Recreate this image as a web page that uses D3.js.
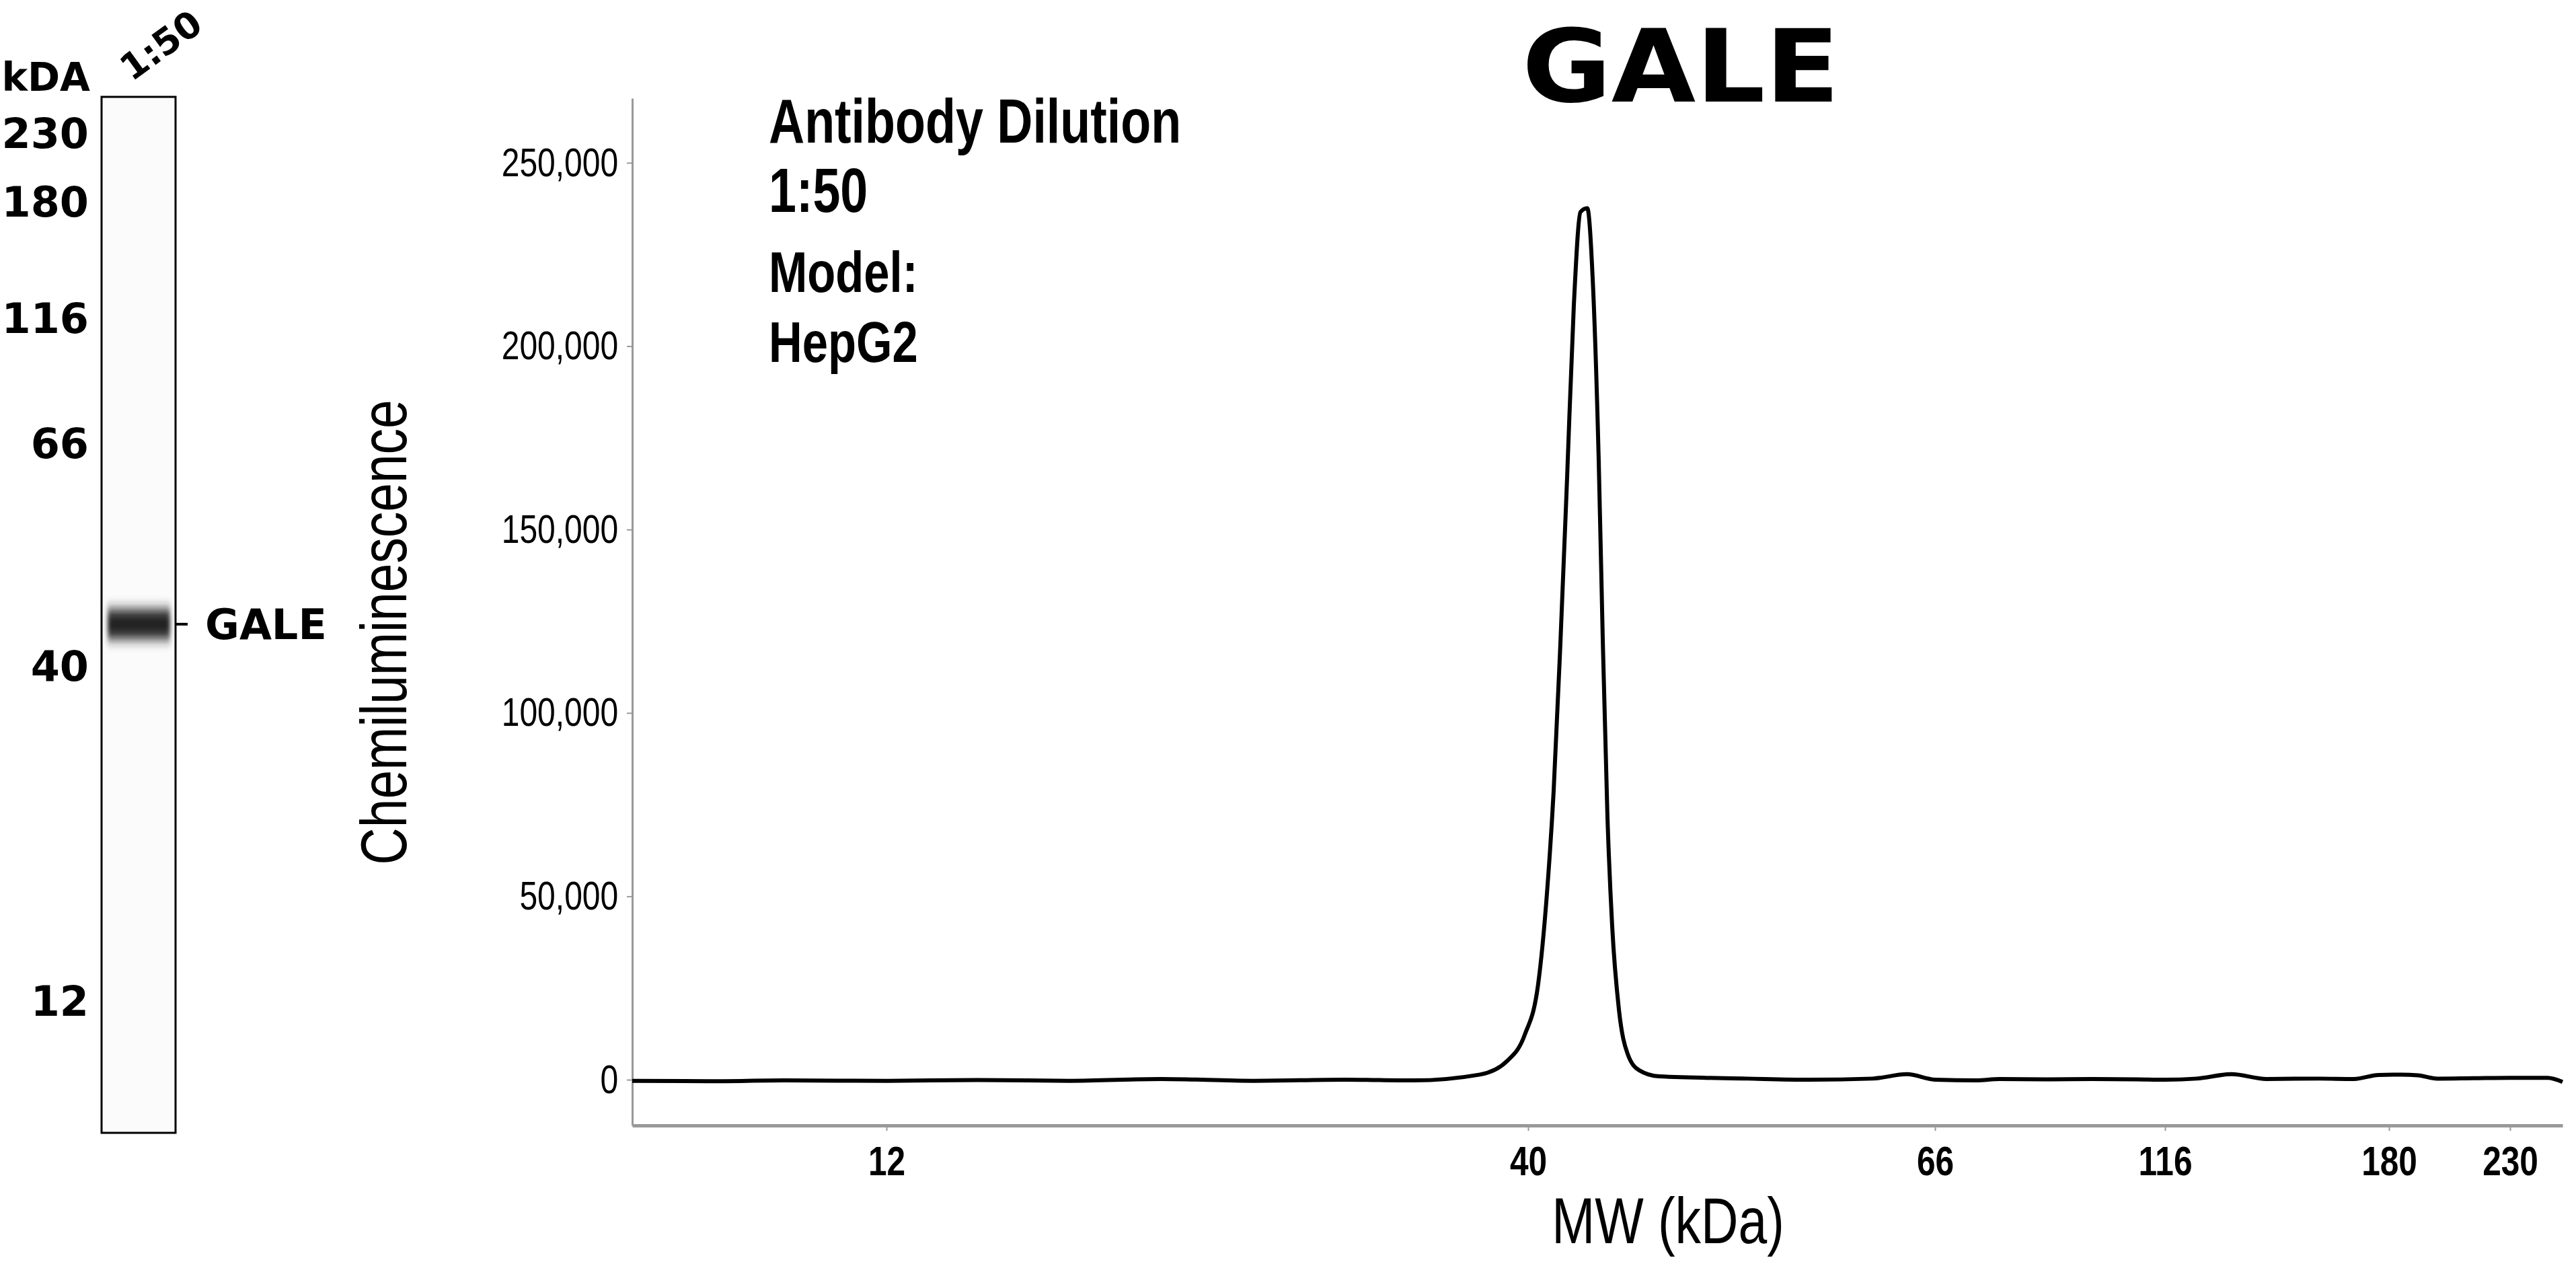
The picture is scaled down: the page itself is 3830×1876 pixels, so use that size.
<!DOCTYPE html>
<html>
<head>
<meta charset="utf-8">
<script src="https://cdn.jsdelivr.net/npm/d3@7"></script>
<style>
  body { margin: 0; background: #fff; }
  svg { display: block; }
</style>
</head>
<body>
<svg id="chart" width="3830" height="1876"></svg>
<script>
// electropherogram trace
const mw = [2, 5, 8, 12, 16, 20, 24, 28, 32, 35, 37.9, 39.1, 39.85, 40.64, 41.2, 41.63, 42.06, 42.49,
  42.92, 43.35, 43.78, 44.13, 44.51, 44.77, 45.07, 45.37, 45.8, 46.36, 47.09, 48.38, 54, 58, 62, 64.2,
  66, 75, 80, 90, 100, 110, 116, 125, 135, 145, 160, 170, 177, 185, 192, 200, 215, 230, 245, 251];
const signal = [-300, -400, -200, -300, -100, -300, 200, -300, 0, -200, 1400, 5200, 12200, 26000,
  50600, 78600, 118700, 164000, 211000, 236600, 237600, 218000, 169000, 120000, 71600, 42000, 19200,
  7000, 2600, 900, 300, 0, 300, 1500, 0, -200, 200, 100, 200, 100, 0, 300, 1500, 200, 300, 200, 1300,
  1400, 1200, 300, 400, 500, 500, -600];

const xTicks = [12, 40, 66, 116, 180, 230];
const yTicks = [0, 50000, 100000, 150000, 200000, 250000];

// gel lane ladder
const ladder = [230, 180, 116, 66, 40, 12];
const dilution = "1:50";
const target = "GALE";

const svg = d3.select("#chart");
const sans = "'Liberation Sans', Arial, sans-serif";
const wide = "'DejaVu Sans', 'Liberation Sans', sans-serif";
const squeeze = 0.8; // imitates a condensed face

// ---- trace plot ----
const x = d3.scaleLinear()
  .domain([2, 12, 40, 66, 116, 180, 230, 251])
  .range([940, 1318, 2272, 2877, 3219, 3552, 3732, 3810]);
const y = d3.scaleLinear().domain([-12470, 267600]).range([1673, 146]);

const xAxis = svg.append("g")
  .attr("transform", "translate(0,1673)")
  .call(d3.axisBottom(x).tickValues(xTicks).tickSize(8).tickSizeOuter(0).tickPadding(22));
xAxis.select(".domain").attr("stroke", "#999").attr("stroke-width", 5);
xAxis.selectAll(".tick line").attr("stroke", "#999").attr("stroke-width", 2);
xAxis.selectAll("text").attr("font-family", sans).attr("font-weight", "bold")
  .attr("font-size", 62).attr("fill", "#000").attr("transform", `scale(${squeeze},1)`);

const yAxis = svg.append("g")
  .attr("transform", "translate(940,0)")
  .call(d3.axisLeft(y).tickValues(yTicks).tickSize(8).tickSizeOuter(0).tickPadding(18)
    .tickFormat(d3.format(",")));
yAxis.select(".domain").attr("stroke", "#999").attr("stroke-width", 3);
yAxis.selectAll(".tick line").attr("stroke", "#999").attr("stroke-width", 2);
yAxis.selectAll("text").attr("font-family", sans).attr("font-size", 60).attr("fill", "#000")
  .attr("transform", `scale(${squeeze},1)`);

const pts = mw.map((m, i) => [m, signal[i]]);
svg.append("path")
  .datum(pts)
  .attr("fill", "none")
  .attr("stroke", "#000")
  .attr("stroke-width", 6)
  .attr("stroke-linejoin", "round")
  .attr("d", d3.line().x(d => x(d[0])).y(d => y(d[1])).curve(d3.curveMonotoneX));

svg.append("text").attr("transform", "translate(2499,151) scale(1.08,1)").attr("text-anchor", "middle")
  .attr("font-family", wide).attr("font-weight", "bold").attr("font-size", 150)
  .text(target);

const notes = [["Antibody Dilution", 212, 92], [dilution, 315, 92], ["Model:", 434, 86], ["HepG2", 538, 86]];
svg.selectAll(".note").data(notes).join("text")
  .attr("class", "note")
  .attr("transform", d => `translate(1143,${d[1]}) scale(${squeeze},1)`)
  .attr("font-family", sans).attr("font-weight", "bold").attr("font-size", d => d[2])
  .text(d => d[0]);

svg.append("text")
  .attr("transform", `translate(604,940) rotate(-90) scale(${squeeze},1)`)
  .attr("text-anchor", "middle")
  .attr("font-family", sans).attr("font-size", 96)
  .text("Chemiluminescence");

svg.append("text").attr("transform", `translate(2480,1848) scale(${squeeze},1)`).attr("text-anchor", "middle")
  .attr("font-family", sans).attr("font-size", 96)
  .text("MW (kDa)");

// ---- gel lane ----
const laneY = d3.scaleLinear()
  .domain(ladder)
  .range([198, 300, 473, 659, 990, 1488]);

const defs = svg.append("defs");
defs.append("filter").attr("id", "blur").attr("x", "-20%").attr("y", "-100%")
  .attr("width", "140%").attr("height", "300%")
  .append("feGaussianBlur").attr("stdDeviation", "3 9");

svg.append("rect").attr("x", 151).attr("y", 144).attr("width", 110).attr("height", 1540)
  .attr("fill", "#fbfbfb").attr("stroke", "#000").attr("stroke-width", 3);

const peakMw = mw[signal.indexOf(d3.max(signal))];
const bandY = laneY(peakMw) - 14;
svg.append("rect").attr("x", 160).attr("y", bandY - 22).attr("width", 93).attr("height", 44)
  .attr("fill", "#222").attr("filter", "url(#blur)");

svg.append("line").attr("x1", 261).attr("x2", 279).attr("y1", bandY).attr("y2", bandY)
  .attr("stroke", "#000").attr("stroke-width", 4);
svg.append("text").attr("x", 305).attr("y", bandY + 22)
  .attr("font-family", wide).attr("font-weight", "bold").attr("font-size", 62)
  .text(target);

svg.selectAll(".ladder").data(ladder).join("text")
  .attr("class", "ladder")
  .attr("x", 132).attr("y", d => laneY(d) + 22)
  .attr("text-anchor", "end")
  .attr("font-family", wide).attr("font-weight", "bold").attr("font-size", 62)
  .text(d => d);

svg.append("text").attr("x", 134).attr("y", 135).attr("text-anchor", "end")
  .attr("font-family", wide).attr("font-weight", "bold").attr("font-size", 58)
  .text("kDA");

svg.append("text")
  .attr("transform", "translate(196,122) rotate(-36)")
  .attr("font-family", wide).attr("font-weight", "bold").attr("font-size", 54)
  .text(dilution);
</script>
</body>
</html>
